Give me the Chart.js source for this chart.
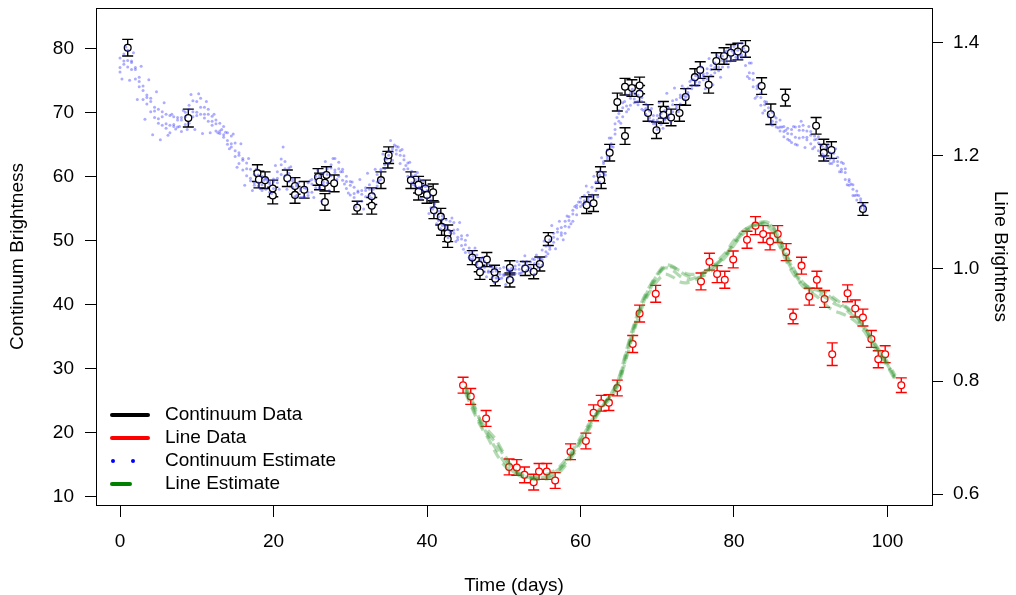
<!DOCTYPE html>
<html>
<head>
<meta charset="utf-8">
<script src="https://cdn.jsdelivr.net/npm/chart.js@4.4.1/dist/chart.umd.min.js"></script>
<style>
  html, body { margin: 0; padding: 0; background: #fff; }
  #wrap { width: 1016px; height: 595px; }
</style>
</head>
<body>
<div id="wrap"><canvas id="lc" width="1016" height="595"></canvas></div>
<script>
// continuum light curve (left axis)
const contTime = [1.0, 8.9, 17.9, 18.1, 18.9, 19.9, 19.9, 21.8, 22.8, 22.8, 24.0, 25.8, 26.0, 26.7, 26.9, 26.7, 27.9,
  30.9, 32.8, 32.8, 34.0, 34.9, 35.0, 37.9, 38.9, 38.9, 39.8, 40.0, 40.8, 40.9, 41.8, 41.9, 42.7, 42.7,
  45.9, 46.8, 46.9, 47.8, 48.8, 48.9, 50.8, 50.8, 52.8, 53.9, 54.7, 55.8, 60.8, 61.7, 62.6, 62.7, 63.8,
  64.8, 65.8, 65.8, 66.7, 67.7, 67.7, 68.8, 69.9, 70.8, 70.8, 71.8, 72.9, 73.7, 74.9, 75.6, 76.7, 77.7,
  78.7, 79.6, 80.5, 81.5, 83.6, 84.8, 86.7, 90.7, 91.7, 91.7, 92.7, 96.8];
const contFlux = [80.2, 69.2, 60.6, 59.6, 59.5, 58.2, 57.1, 59.8, 58.6, 57.2, 58.0, 60.0, 59.3, 59.1, 60.3, 56.1, 59.0,
  55.2, 57.0, 55.5, 59.5, 62.7, 63.4, 59.5, 58.8, 57.7, 58.2, 57.2, 57.6, 54.8, 53.8, 52.2, 51.2, 50.3,
  47.4, 46.3, 45.1, 47.1, 45.1, 44.1, 45.8, 43.9, 45.7, 45.2, 46.4, 50.3, 55.6, 55.9, 60.3, 59.5, 63.8,
  71.7, 66.4, 74.1, 73.9, 74.3, 73.0, 70.0, 67.3, 70.5, 69.7, 69.3, 70.0, 72.5, 75.6, 76.7, 74.4, 78.1,
  78.9, 79.4, 79.6, 80.0, 74.2, 69.8, 72.4, 68.0, 64.6, 63.8, 64.2, 55.0];
const contErr = [1.3, 1.4, 1.3, 1.3, 1.3, 1.3, 1.3, 1.3, 1.3, 1.3, 1.3, 1.3, 1.3, 1.3, 1.3, 1.3, 1.3,
  1.0, 1.3, 1.3, 1.3, 1.3, 1.3, 1.3, 1.3, 1.3, 1.3, 1.3, 1.3, 1.3, 1.3, 1.3, 1.3, 1.3,
  1.1, 1.1, 1.1, 1.1, 1.1, 1.1, 1.1, 1.1, 1.1, 1.1, 1.1, 1.0, 1.3, 1.3, 1.3, 1.3, 1.3,
  1.4, 1.3, 1.3, 1.3, 1.3, 1.3, 1.3, 1.3, 1.3, 1.3, 1.3, 1.3, 1.3, 1.3, 1.3, 1.3, 1.3,
  1.3, 1.3, 1.3, 1.3, 1.3, 1.6, 1.3, 1.3, 1.3, 1.3, 1.3, 1.0];

// emission line light curve (right axis)
const lineTime = [44.7, 45.7, 47.7, 50.7, 51.7, 52.7, 53.9, 54.6, 55.6, 56.7, 58.7, 60.7, 61.7, 62.7, 63.7,
  64.8, 66.8, 67.7, 69.8, 75.7, 76.8, 77.8, 78.8, 79.9, 81.7, 82.8, 83.8, 84.7, 85.7, 86.8, 87.7,
  88.8, 89.8, 90.8, 91.8, 92.8, 94.8, 95.8, 96.8, 97.9, 98.8, 99.7, 101.8];
const lineFlux = [0.793, 0.773, 0.734, 0.648, 0.647, 0.634, 0.621, 0.640, 0.640, 0.624, 0.675, 0.694, 0.744, 0.761, 0.762,
  0.788, 0.866, 0.920, 0.955, 0.977, 1.012, 0.990, 0.980, 1.016, 1.051, 1.076, 1.061, 1.048, 1.061, 1.029, 0.915,
  1.005, 0.950, 0.980, 0.946, 0.848, 0.956, 0.929, 0.913, 0.875, 0.839, 0.848, 0.793];
const lineErr = [0.014, 0.014, 0.014, 0.014, 0.014, 0.014, 0.014, 0.014, 0.014, 0.014, 0.014, 0.014, 0.014, 0.014, 0.014,
  0.014, 0.015, 0.015, 0.015, 0.015, 0.015, 0.015, 0.015, 0.015, 0.015, 0.016, 0.015, 0.015, 0.015, 0.015, 0.013,
  0.015, 0.015, 0.015, 0.015, 0.020, 0.015, 0.015, 0.015, 0.015, 0.015, 0.015, 0.013];

// continuum estimate draws: A-C on whole days (0..97), D-F on half days (0.5..96.5),
// G on days 0.25..96.25, H on days 0.75..96.75
const contEstA = [78.6, 79.8, 77.1, 73.5, 70.2, 68.4, 67.6, 67.9, 69.3, 71.2, 71.8, 70.9, 68.7, 66.8, 65.7, 63.2, 61.1, 59.4, 58.6, 58.1,
  59.7, 62.8, 61.4, 58.9, 56.8, 57.6, 58.4, 59.1, 60.7, 61.2, 59.3, 57.8, 56.9, 57.4, 59.6, 62.1, 64.8, 63.3, 60.9, 59.7,
  58.6, 55.8, 52.4, 51.3, 51.8, 50.1, 48.4, 46.9, 45.1, 44.2, 44.6, 45.7, 46.3, 45.4, 44.8, 46.2, 48.7, 50.3, 51.2, 53.1,
  55.4, 57.6, 59.2, 62.4, 66.1, 70.4, 72.8, 73.1, 70.6, 68.7, 67.4, 68.9, 70.2, 71.4, 72.8, 74.3, 76.1, 77.4, 78.8, 79.7,
  80.4, 80.9, 77.8, 74.2, 70.4, 68.1, 67.2, 65.9, 65.1, 66.2, 67.1, 66.3, 64.6, 62.4, 60.8, 58.7, 56.4, 54.9];
const contEstB = [76.4, 77.2, 75.3, 72.1, 71.8, 70.6, 69.8, 68.2, 67.1, 68.4, 69.6, 69.8, 69.5, 68.4, 66.9, 64.1, 62.6, 61.2, 60.3, 59.8,
  58.2, 60.4, 59.3, 57.1, 56.9, 59.6, 60.2, 61.3, 62.9, 60.8, 57.2, 56.1, 58.3, 59.4, 61.2, 64.1, 63.6, 61.2, 59.1, 58.2,
  56.7, 54.2, 53.9, 53.1, 50.2, 48.2, 47.1, 47.3, 46.4, 45.8, 45.9, 44.6, 44.9, 46.8, 47.1, 48.6, 50.2, 51.9, 53.1, 54.8,
  56.7, 56.4, 57.9, 60.6, 64.8, 68.7, 70.2, 71.6, 72.4, 70.3, 69.6, 70.4, 71.9, 72.8, 73.9, 75.8, 75.2, 75.9, 76.6, 77.9,
  78.2, 78.6, 75.4, 72.6, 71.8, 70.1, 68.9, 67.6, 67.8, 68.1, 65.2, 64.1, 62.6, 63.7, 62.3, 59.6, 57.8, 55.6];
const contEstC = [77.1, 78.2, 76.8, 74.2, 72.3, 69.1, 68.3, 69.4, 68.9, 70.6, 70.1, 69.2, 68.1, 67.2, 65.1, 65.3, 62.9, 59.8, 59.1, 59.7,
  59.3, 61.9, 60.6, 58.6, 58.3, 58.9, 58.2, 60.4, 61.1, 59.5, 58.7, 57.6, 57.9, 58.1, 60.9, 63.4, 64.2, 62.7, 60.2, 58.4,
  57.9, 55.3, 53.4, 51.6, 50.6, 49.4, 47.6, 45.8, 45.3, 45.3, 44.8, 45.2, 45.6, 46.3, 46.5, 47.1, 49.1, 51.4, 52.3, 54.2,
  56.1, 56.8, 59.1, 62.1, 65.2, 69.9, 71.1, 72.2, 71.8, 69.2, 68.9, 69.1, 71.3, 72.4, 73.2, 74.9, 75.8, 76.8, 77.2, 78.3,
  79.3, 79.1, 76.3, 73.8, 71.3, 68.7, 67.8, 66.8, 66.2, 67.3, 66.5, 65.3, 63.2, 62.8, 61.2, 59.3, 57.2, 55.3];
const contEstD = [79.2, 78.1, 75.6, 71.4, 69.3, 68.1, 66.9, 67.8, 70.1, 71.9, 72.3, 70.6, 68.9, 66.2, 64.7, 62.1, 60.2, 58.7, 57.9, 57.6,
  60.8, 62.4, 59.8, 56.8, 57.1, 58.3, 58.8, 61.9, 62.3, 60.1, 58.4, 56.2, 57.1, 58.6, 61.3, 64.4, 64.1, 62.2, 60.3, 59.4,
  57.1, 53.2, 51.8, 52.9, 50.8, 48.9, 46.3, 45.2, 44.3, 44.1, 44.2, 46.1, 46.8, 45.3, 45.8, 47.6, 49.8, 50.9, 52.2, 54.1,
  55.8, 58.4, 60.9, 64.2, 68.3, 71.6, 73.1, 72.8, 71.4, 68.3, 68.2, 69.2, 70.8, 72.1, 73.8, 76.2, 76.9, 77.8, 78.9, 80.1,
  80.8, 79.6, 76.2, 73.1, 69.4, 67.8, 66.3, 65.4, 66.1, 67.2, 66.4, 64.8, 62.1, 61.8, 59.6, 57.1, 55.2];
const contEstE = [77.6, 76.8, 74.1, 72.8, 70.9, 70.2, 69.6, 69.3, 68.2, 69.4, 69.8, 68.7, 67.2, 67.9, 66.4, 63.8, 62.2, 60.4, 60.1, 59.2,
  59.1, 60.2, 58.4, 58.2, 59.1, 60.1, 60.6, 60.2, 60.1, 58.2, 56.8, 57.9, 58.8, 60.4, 62.8, 62.6, 62.1, 60.1, 58.6, 57.8,
  55.2, 54.7, 53.3, 51.2, 49.3, 47.4, 47.8, 46.8, 45.9, 45.7, 45.6, 44.9, 45.2, 46.7, 47.3, 49.2, 51.2, 52.1, 53.8, 55.6,
  57.1, 56.9, 59.2, 62.8, 66.7, 69.4, 71.2, 71.3, 69.8, 69.6, 69.9, 70.8, 72.1, 73.8, 75.2, 74.8, 75.3, 76.3, 77.2, 78.1,
  78.6, 77.4, 74.1, 71.2, 70.8, 69.2, 67.9, 67.4, 67.9, 65.8, 64.7, 63.2, 63.8, 63.1, 61.3, 58.8, 56.6];
const contEstF = [78.1, 77.9, 74.9, 72.4, 70.3, 69.4, 68.1, 68.9, 69.4, 70.2, 70.9, 69.8, 68.3, 66.6, 65.2, 63.4, 61.3, 59.1, 58.8, 58.9,
  59.8, 61.3, 59.4, 57.9, 57.6, 59.4, 59.2, 61.4, 61.3, 59.3, 57.4, 57.3, 58.1, 59.2, 61.9, 63.9, 63.4, 61.3, 59.6, 58.7,
  56.4, 53.8, 52.3, 51.7, 50.3, 48.2, 46.6, 45.9, 45.2, 44.8, 45.3, 45.6, 46.1, 45.8, 46.4, 48.3, 50.6, 51.3, 53.2, 55.2,
  56.3, 57.2, 60.3, 63.2, 67.4, 70.8, 72.3, 71.8, 70.7, 68.9, 69.3, 69.7, 71.2, 72.7, 74.3, 75.6, 76.2, 77.1, 78.2, 78.8,
  79.8, 78.9, 75.2, 72.4, 69.8, 68.6, 67.1, 66.7, 67.3, 66.2, 65.8, 63.6, 62.8, 62.4, 60.7, 58.1, 56.2];
const contEstG = [75.3, 75.1, 72.1, 69.0, 66.6, 65.8, 66.5, 67.5, 70.4, 72.9, 73.0, 71.8, 69.8, 67.4, 64.4, 61.5, 58.7, 57.9, 58.2, 59.4,
  61.8, 64.7, 61.6, 59.1, 58.2, 56.8, 56.2, 57.9, 59.6, 58.9, 59.2, 59.6, 60.6, 61.2, 63.6, 65.7, 64.7, 61.8, 58.8, 56.6,
  54.3, 52.7, 52.5, 53.6, 52.9, 50.9, 48.9, 47.4, 46.0, 44.2, 43.2, 43.9, 45.0, 45.8, 47.8, 50.0, 52.4, 53.1, 53.9, 55.4,
  55.7, 55.8, 56.9, 60.3, 64.7, 68.4, 70.6, 71.7, 70.4, 70.7, 71.6, 73.1, 73.9, 74.2, 74.9, 74.3, 73.8, 74.4, 75.6, 77.2,
  78.7, 80.1, 77.8, 74.5, 71.7, 69.5, 67.8, 65.7, 65.0, 64.6, 64.4, 65.0, 65.0, 64.4, 62.1, 58.9, 57.1];
const contEstH = [80.3, 79.4, 77.3, 75.2, 73.3, 71.6, 69.8, 67.9, 67.4, 67.4, 66.8, 66.9, 66.9, 67.0, 66.7, 65.2, 62.9, 61.2, 59.5, 57.4,
  58.1, 58.1, 56.9, 56.8, 59.4, 61.1, 62.4, 62.9, 60.8, 57.5, 55.3, 55.0, 56.7, 59.4, 62.8, 65.0, 64.3, 62.3, 60.7, 58.5,
  55.0, 51.9, 50.5, 49.9, 48.7, 47.1, 45.8, 44.4, 43.5, 44.2, 45.4, 46.8, 47.7, 47.2, 47.3, 48.0, 48.8, 50.2, 52.7, 56.1,
  58.6, 60.1, 63.0, 66.1, 69.3, 71.8, 73.7, 73.6, 71.2, 68.4, 67.6, 68.6, 70.2, 72.5, 75.2, 77.2, 78.5, 79.1, 79.5, 79.7,
  79.0, 75.7, 72.3, 70.0, 68.3, 67.7, 67.3, 67.9, 68.7, 67.9, 65.9, 63.3, 62.1, 60.8, 58.8, 57.1, 55.7];

// line estimate draws, days 45..101
const lineEst1 = [0.792, 0.762, 0.728, 0.702, 0.680, 0.658, 0.642, 0.634, 0.630, 0.627, 0.629, 0.634, 0.642, 0.656, 0.674, 0.696, 0.719, 0.741, 0.759,
  0.778, 0.806, 0.856, 0.902, 0.941, 0.968, 0.990, 1.006, 1.004, 0.994, 0.986, 0.983, 0.987, 0.995, 1.008, 1.022, 1.041, 1.059, 1.070,
  1.077, 1.081, 1.074, 1.049, 1.020, 0.994, 0.975, 0.965, 0.961, 0.955, 0.944, 0.936, 0.926, 0.913, 0.896, 0.873, 0.851, 0.830, 0.806];
const lineEst2 = [0.780, 0.748, 0.720, 0.698, 0.672, 0.652, 0.640, 0.633, 0.628, 0.630, 0.633, 0.637, 0.645, 0.660, 0.678, 0.700, 0.722, 0.742, 0.760,
  0.777, 0.799, 0.842, 0.890, 0.930, 0.958, 0.978, 0.990, 0.985, 0.976, 0.975, 0.980, 0.988, 1.000, 1.015, 1.030, 1.050, 1.065, 1.074,
  1.078, 1.077, 1.066, 1.038, 1.008, 0.985, 0.968, 0.958, 0.948, 0.935, 0.925, 0.920, 0.914, 0.904, 0.888, 0.866, 0.846, 0.826, 0.802];
const lineEst3 = [0.788, 0.758, 0.730, 0.712, 0.696, 0.672, 0.650, 0.637, 0.633, 0.629, 0.626, 0.628, 0.635, 0.650, 0.668, 0.690, 0.712, 0.736, 0.756,
  0.772, 0.796, 0.846, 0.894, 0.934, 0.962, 0.986, 1.004, 1.002, 0.996, 0.990, 0.990, 0.993, 1.000, 1.010, 1.026, 1.046, 1.064, 1.074,
  1.080, 1.083, 1.076, 1.050, 1.018, 0.992, 0.974, 0.964, 0.962, 0.958, 0.948, 0.938, 0.928, 0.914, 0.896, 0.874, 0.854, 0.834, 0.810];
const lineEst4 = [0.784, 0.752, 0.724, 0.706, 0.690, 0.668, 0.646, 0.636, 0.630, 0.626, 0.627, 0.632, 0.640, 0.654, 0.672, 0.694, 0.716, 0.739, 0.758,
  0.776, 0.803, 0.852, 0.898, 0.937, 0.966, 0.988, 1.001, 0.997, 0.986, 0.980, 0.984, 0.992, 1.002, 1.012, 1.024, 1.043, 1.060, 1.071,
  1.078, 1.080, 1.070, 1.042, 1.012, 0.988, 0.970, 0.961, 0.956, 0.948, 0.938, 0.932, 0.922, 0.910, 0.893, 0.871, 0.850, 0.829, 0.805];

const xTicks = [0, 20, 40, 60, 80, 100];
const contTicks = [10, 20, 30, 40, 50, 60, 70, 80];
const lineTicks = [0.6, 0.8, 1.0, 1.2, 1.4];

const legendItems = ['Continuum Data', 'Line Data', 'Continuum Estimate', 'Line Estimate'];

const days = (start, n, step) => Array.from({ length: n }, (_, i) => start + i * step);
const pts = (xs, ys) => ys.map((y, i) => ({ x: xs[i], y }));

const wholeDays = days(0, 98, 1);
const halfDays = days(0.5, 97, 1);
const quarterDays = days(0.25, 97, 1);
const threeQuarterDays = days(0.75, 97, 1);
const lineEstDays = days(45, 57, 1);

Chart.defaults.font.family = '"Liberation Sans", Arial, Helvetica, sans-serif';
Chart.defaults.font.size = 19;
Chart.defaults.color = '#000';

const dotSet = (ys, xs) => ({
  data: pts(xs, ys), yAxisID: 'y', order: 1, showLine: false,
  pointRadius: 1.5, pointBorderWidth: 0, pointBackgroundColor: 'rgba(50,50,255,0.4)'
});
const dashSet = ys => ({
  data: pts(lineEstDays, ys), yAxisID: 'y2', order: 1, showLine: true,
  pointRadius: 0, borderWidth: 3.2, borderDash: [10, 6], tension: 0.3,
  borderColor: 'rgba(40,150,40,0.35)'
});

// vertical error bars with caps, drawn under the markers
const errorBars = {
  id: 'errorBars',
  beforeDatasetsDraw(chart) {
    const { ctx } = chart;
    chart.data.datasets.forEach((ds, i) => {
      if (!ds.errors) return;
      const meta = chart.getDatasetMeta(i);
      const ys = chart.scales[ds.yAxisID];
      ctx.save();
      ctx.strokeStyle = ds.borderColor;
      ctx.lineWidth = 1.4;
      meta.data.forEach((pt, j) => {
        const v = ds.data[j].y, e = ds.errors[j];
        const top = ys.getPixelForValue(v + e);
        const bot = ys.getPixelForValue(v - e);
        ctx.beginPath();
        ctx.moveTo(pt.x, top); ctx.lineTo(pt.x, bot);
        ctx.moveTo(pt.x - 5.5, top); ctx.lineTo(pt.x + 5.5, top);
        ctx.moveTo(pt.x - 5.5, bot); ctx.lineTo(pt.x + 5.5, bot);
        ctx.stroke();
      });
      ctx.restore();
    });
  }
};

// plot frame and the key in the lower left
const frameAndKey = {
  id: 'frameAndKey',
  afterDraw(chart) {
    const { ctx, chartArea: a } = chart;
    ctx.save();
    ctx.strokeStyle = '#000';
    ctx.lineWidth = 1;
    ctx.strokeRect(a.left + 0.5, a.top + 0.5, a.right - a.left, a.bottom - a.top);

    const x0 = a.left + 16, y0 = a.bottom - 90, dy = 23;
    ctx.lineCap = 'round';
    ctx.lineWidth = 4;
    ctx.strokeStyle = '#000';
    ctx.beginPath(); ctx.moveTo(x0, y0); ctx.lineTo(x0 + 36, y0); ctx.stroke();
    ctx.strokeStyle = '#ff0000';
    ctx.beginPath(); ctx.moveTo(x0, y0 + dy); ctx.lineTo(x0 + 36, y0 + dy); ctx.stroke();
    ctx.fillStyle = '#0000ff';
    [x0 + 1, x0 + 21].forEach(x => {
      ctx.beginPath(); ctx.arc(x, y0 + 2 * dy, 2, 0, Math.PI * 2); ctx.fill();
    });
    ctx.strokeStyle = '#008000';
    ctx.beginPath(); ctx.moveTo(x0, y0 + 3 * dy); ctx.lineTo(x0 + 18, y0 + 3 * dy); ctx.stroke();

    ctx.fillStyle = '#000';
    ctx.font = '19px "Liberation Sans", Arial, sans-serif';
    ctx.textBaseline = 'middle';
    legendItems.forEach((t, i) => ctx.fillText(t, x0 + 53, y0 + i * dy));
    ctx.restore();
  }
};

const tickGrid = len => ({ drawOnChartArea: false, drawTicks: true, tickLength: len, color: '#000', lineWidth: 1 });
// drop the label overhang padding so the frame sits where the axes say
const noOverhang = s => { s.paddingTop = 0; s.paddingBottom = 0; s.paddingLeft = 0; s.paddingRight = 0; };

new Chart(document.getElementById('lc'), {
  type: 'scatter',
  data: {
    datasets: [
      dotSet(contEstA, wholeDays), dotSet(contEstB, wholeDays), dotSet(contEstC, wholeDays),
      dotSet(contEstD, halfDays), dotSet(contEstE, halfDays), dotSet(contEstF, halfDays),
      dotSet(contEstG, quarterDays), dotSet(contEstH, threeQuarterDays),
      dashSet(lineEst1), dashSet(lineEst2), dashSet(lineEst3), dashSet(lineEst4),
      {
        data: pts(contTime, contFlux), errors: contErr, yAxisID: 'y', order: 2,
        borderColor: '#000', pointBorderColor: '#000', pointBackgroundColor: '#fff',
        pointRadius: 3.4, pointBorderWidth: 1.3
      },
      {
        data: pts(lineTime, lineFlux), errors: lineErr, yAxisID: 'y2', order: 2,
        borderColor: '#ff0000', pointBorderColor: '#ff0000', pointBackgroundColor: '#fff',
        pointRadius: 3.4, pointBorderWidth: 1.3
      }
    ]
  },
  options: {
    responsive: false,
    animation: false,
    events: [],
    layout: { padding: { top: 8, left: 0, right: 0, bottom: 0 } },
    plugins: { legend: { display: false }, tooltip: { enabled: false } },
    scales: {
      x: {
        type: 'linear', position: 'bottom', min: -3.13, max: 105.8,
        afterBuildTicks: s => { s.ticks = xTicks.map(value => ({ value })); },
        afterFit: s => { s.height = 90; noOverhang(s); },
        border: { display: false },
        grid: tickGrid(12),
        ticks: { padding: 13, maxRotation: 0, autoSkip: false },
        title: { display: true, text: 'Time (days)', font: { size: 19, lineHeight: 0.9 }, padding: { top: 0, bottom: 1 } }
      },
      y: {
        type: 'linear', position: 'left', min: 8.75, max: 86.4,
        afterBuildTicks: s => { s.ticks = contTicks.map(value => ({ value })); },
        afterFit: s => { s.width = 96; noOverhang(s); },
        border: { display: false },
        grid: tickGrid(11),
        ticks: { padding: 11 },
        title: { display: true, text: 'Continuum Brightness', font: { size: 19 }, padding: { top: 6, bottom: 0 } }
      },
      y2: {
        type: 'linear', position: 'right', min: 0.5805, max: 1.462,
        afterBuildTicks: s => { s.ticks = lineTicks.map(value => ({ value })); },
        afterFit: s => { s.width = 84; noOverhang(s); },
        border: { display: false },
        grid: tickGrid(11),
        ticks: { padding: 10, callback: v => v.toFixed(1) },
        title: { display: true, text: 'Line Brightness', font: { size: 19 }, padding: { top: 4.6, bottom: 0 } }
      }
    }
  },
  plugins: [errorBars, frameAndKey]
});
</script>
</body>
</html>
